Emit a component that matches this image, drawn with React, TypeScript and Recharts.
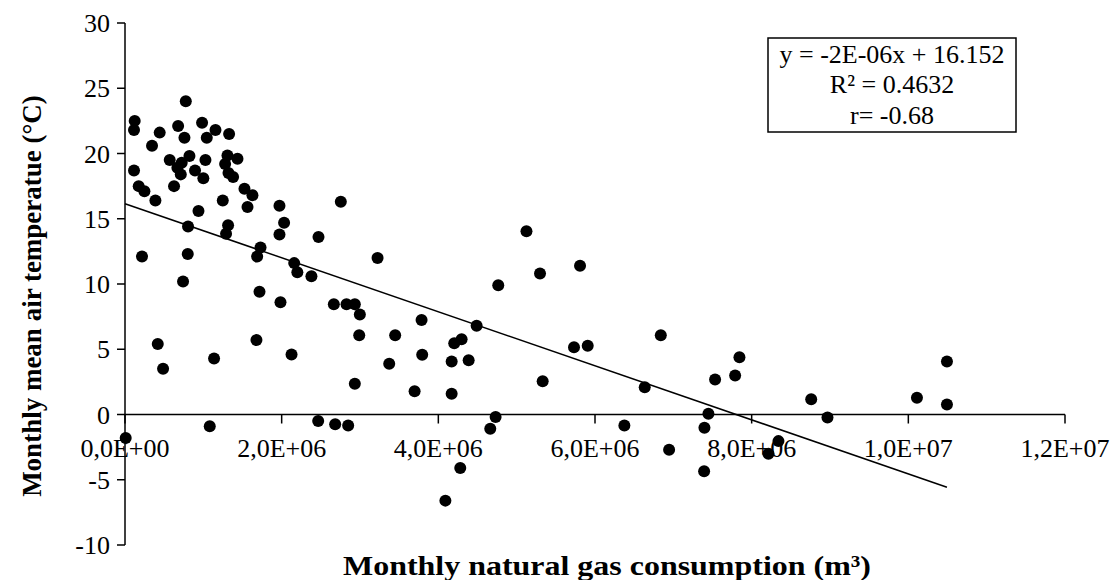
import { ReferenceLine, Scatter, ScatterChart, XAxis, YAxis } from "recharts"

// monthly natural gas consumption (m³)
const gasUse = [
  776000, 124000, 115000, 443000, 678000, 984000, 1155000, 1329000, 759000, 1044000,
  345000, 823000, 571000, 724000, 1027000, 1308000, 1436000, 1278000, 669000, 894000,
  115000, 712000, 1321000, 1380000, 1000000, 175000, 248000, 626000, 1525000, 1627000,
  388000, 1248000, 1564000, 1972000, 938000, 2031000, 1316000, 1972000, 1290000, 805000,
  2470000, 1730000, 1687000, 217000, 801000, 2160000, 2200000, 2380000, 741000, 1717000,
  1985000, 418000, 1678000, 486000, 1137000, 2126000, 1082000, 9000, 2466000, 2755000,
  3224000, 4765000, 2666000, 2828000, 2934000, 2998000, 3786000, 4489000, 2990000, 3449000,
  4203000, 4297000, 3373000, 3794000, 4170000, 4387000, 2934000, 3697000, 4170000, 2683000,
  2849000, 4731000, 4663000, 5125000, 5298000, 5809000, 5732000, 5907000, 6840000, 5332000,
  6635000, 7533000, 7448000, 7397000, 6375000, 6946000, 7844000, 7789000, 8760000, 8968000,
  10110000, 10493000, 10493000, 8342000, 8214000, 7393000, 4090000, 4280000,
]

// monthly mean air temperature (°C)
const airTemp = [
  24.0, 22.5, 21.8, 21.6, 22.1, 22.35, 21.8, 21.5, 21.2, 21.2,
  20.6, 19.8, 19.5, 19.3, 19.5, 19.85, 19.6, 19.2, 18.9, 18.7,
  18.7, 18.4, 18.5, 18.2, 18.1, 17.5, 17.1, 17.5, 17.3, 16.8,
  16.4, 16.4, 15.9, 16.0, 15.6, 14.7, 14.5, 13.8, 13.85, 14.4,
  13.6, 12.8, 12.1, 12.1, 12.3, 11.6, 10.9, 10.6, 10.2, 9.4,
  8.6, 5.4, 5.7, 3.5, 4.3, 4.6, -0.9, -1.8, -0.5, 16.3,
  12.0, 9.9, 8.45, 8.45, 8.45, 7.66, 7.25, 6.8, 6.08, 6.08,
  5.46, 5.77, 3.88, 4.57, 4.06, 4.16, 2.35, 1.79, 1.59, -0.74,
  -0.84, -0.2, -1.1, 14.05, 10.8, 11.4, 5.16, 5.26, 6.08, 2.55,
  2.09, 2.68, 0.05, -1.02, -0.84, -2.7, 4.39, 2.99, 1.17, -0.23,
  1.28, 4.06, 0.77, -2.04, -3.0, -4.34, -6.6, -4.1,
]

// linear trend line end points
const trendGas = [0, 10493000]
const trendTemp = [16.152, -5.57]

const xTicks = [0, 2000000, 4000000, 6000000, 8000000, 10000000, 12000000]
const xTickLabels = ["0,0E+00", "2,0E+06", "4,0E+06", "6,0E+06", "8,0E+06", "1,0E+07", "1,2E+07"]
const yTicks = [-10, -5, 0, 5, 10, 15, 20, 25, 30]
const fitLines = ["y = -2E-06x + 16.152", "R² = 0.4632", "r= -0.68"]

const points = gasUse.map((x, i) => ({ x, y: airTemp[i] }))
const trend = trendGas.map((x, i) => ({ x, y: trendTemp[i] }))

const W = 1113
const H = 580
const TOP = 23
const AXIS_H = 35
const PLOT_H = H - TOP - AXIS_H
const Y_MIN = -10
const Y_MAX = 30
// distance from the bottom of the plot up to the y = 0 line
const zeroShift = (PLOT_H * (0 - Y_MIN)) / (Y_MAX - Y_MIN)

const font = "'Liberation Serif', 'Times New Roman', serif"

function XTick(props: any) {
  const { x, y, index } = props
  const y0 = y - zeroShift
  return (
    <g>
      <line x1={x} y1={y0} x2={x} y2={y0 + 9} stroke="#000" strokeWidth={1.5} />
      <text x={x} y={y0 + 42} textAnchor="middle" fontSize={26} fontFamily={font} fill="#000">
        {xTickLabels[index]}
      </text>
    </g>
  )
}

function Dot(props: any) {
  return <circle cx={props.cx} cy={props.cy} r={6} fill="#000" />
}

export default function App() {
  return (
    <div style={{ position: "relative", width: W, height: H, background: "#fff" }}>
      <style>{`body{margin:0}`}</style>
      <ScatterChart width={W} height={H} margin={{ top: TOP, right: 48, bottom: 0, left: 0 }}>
        <XAxis
          type="number"
          dataKey="x"
          domain={[0, 12000000]}
          ticks={xTicks}
          height={AXIS_H}
          axisLine={false}
          tickLine={false}
          tickSize={0}
          tickMargin={0}
          tick={<XTick />}
          interval={0}
        />
        <YAxis
          type="number"
          dataKey="y"
          domain={[Y_MIN, Y_MAX]}
          ticks={yTicks}
          width={125}
          interval={0}
          axisLine={{ stroke: "#000", strokeWidth: 1.5 }}
          tickLine={{ stroke: "#000", strokeWidth: 1.5 }}
          tickSize={8}
          tickMargin={7}
          tick={{ fontSize: 26, fontFamily: font, fill: "#000" }}
        />
        <ReferenceLine y={0} stroke="#000" strokeWidth={1.5} />
        <Scatter data={points} shape={<Dot />} isAnimationActive={false} />
        <Scatter
          data={trend}
          line={{ stroke: "#000", strokeWidth: 1.5 }}
          shape={() => <g />}
          isAnimationActive={false}
        />
      </ScatterChart>
      <svg
        width={W}
        height={H}
        style={{ position: "absolute", left: 0, top: 0, pointerEvents: "none" }}
      >
        <text
          x={32}
          y={296}
          transform="rotate(-90 32 296)"
          textAnchor="middle"
          dominantBaseline="central"
          fontSize={27}
          fontWeight="bold"
          fontFamily={font}
        >
          Monthly mean air temperatue (°C)
        </text>
        <text
          x={607}
          y={565}
          textAnchor="middle"
          dominantBaseline="central"
          fontSize={28}
          fontWeight="bold"
          fontFamily={font}
          textLength={528}
          lengthAdjust="spacingAndGlyphs"
        >
          Monthly natural gas consumption (m³)
        </text>
        <rect x={768} y={38} width={248} height={94} fill="#fff" stroke="#000" strokeWidth={1.5} />
        {fitLines.map((t, i) => (
          <text
            key={t}
            x={892}
            y={54 + i * 30.5}
            textAnchor="middle"
            dominantBaseline="central"
            fontSize={26}
            fontFamily={font}
          >
            {t}
          </text>
        ))}
      </svg>
    </div>
  )
}
